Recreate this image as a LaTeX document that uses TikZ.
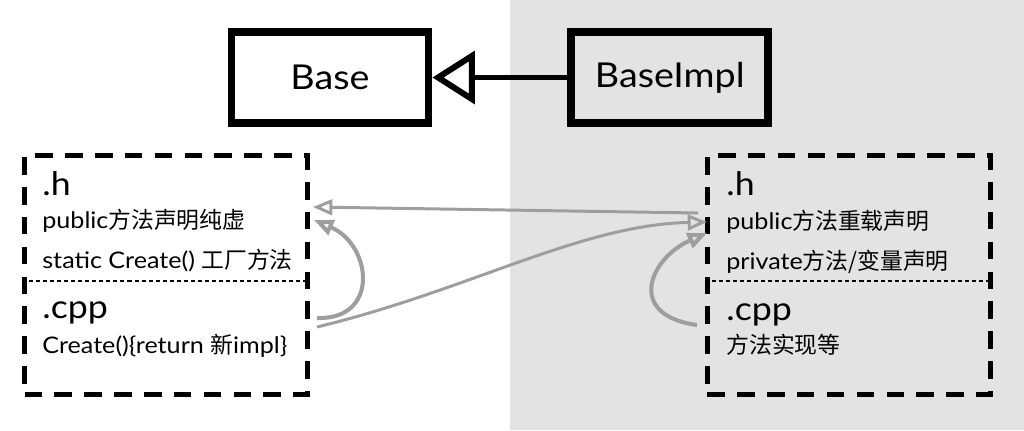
\documentclass[tikz,border=0pt]{standalone}
\usepackage{fontspec}
\setmainfont{Lato}[FakeStretch=1.1]
\newfontfamily\cjk{Noto Sans CJK SC}
\usetikzlibrary{arrows.meta, positioning}
\definecolor{implgray}{HTML}{E3E3E3}
\definecolor{linkgray}{HTML}{9E9E9E}

\begin{document}
\begin{tikzpicture}[x=0.02cm, y=-0.02cm, >=Stealth,
  classbox/.style={draw, line width=4.5pt, minimum width=3.94cm, minimum height=1.82cm, font=\fontsize{19.5}{23}\selectfont},
  filebox/.style={draw, line width=2.8pt, dash pattern=on 10pt off 7pt, minimum width=5.66cm, minimum height=4.78cm},
  divider/.style={draw, line width=0.6pt, dash pattern=on 2.3pt off 1.7pt},
  ext/.style={anchor=base west, inner sep=0pt, font=\fontsize{18.5}{22}\selectfont},
  textline/.style={anchor=base west, inner sep=0pt, font=\fontsize{13}{16}\selectfont},
  link/.style={draw=linkgray, line width=1.7pt, -{Triangle[open, length=11pt, width=9pt]}},
  selflink/.style={link, line width=2.3pt}]
\useasboundingbox (0,0) rectangle (1024,430);
\fill[implgray] (510,0) rectangle (1024,430);

% class boxes
\node[classbox] (base) at (330,77.5) {Base};
\node[classbox, right=2.7cm of base] (impl) {BaseImpl};
\draw[line width=3.4pt, -{Triangle[open, length=0.85cm, width=1.05cm]}] (impl) -- (base);

% file boxes
\node[filebox] (lbox) at (166,275) {};
\node[filebox, right=7.9cm of lbox] (rbox) {};
\draw[divider] ([yshift=-0.12cm]lbox.west) -- ([yshift=-0.12cm]lbox.east);
\draw[divider] ([yshift=-0.12cm]rbox.west) -- ([yshift=-0.12cm]rbox.east);

% left file
\node[ext] (lh) at (42,195) {.h};
\node[textline] (lpub) at (42,228) {public{\cjk 方法声明纯虚}};
\node[textline] (lstatic) at (42,268) {static Create() {\cjk 工厂方法}};
\node[ext] (lcpp) at (42,318) {.cpp};
\node[textline] (lcreate) at (42,353) {Create()\{return {\cjk 新}impl\}};

% right file
\node[ext] (rh) at (726,195) {.h};
\node[textline] (rpub) at (726,229) {public{\cjk 方法重载声明}};
\node[textline] (rpriv) at (726,269) {private{\cjk 方法/变量声明}};
\node[ext] (rcpp) at (726,320) {.cpp};
\node[textline] (rimpl) at (726,353) {{\cjk 方法实现等}};

% link ends
\coordinate (lhIn) at (313,207);
\coordinate (lhLoop) at (314,220);
\coordinate (lcppOut) at (317,318);
\coordinate (lcppLink) at (317,327);
\coordinate (rhOut) at (698,213);
\coordinate (rhIn) at (707,222);
\coordinate (rhLoop) at (707,233);
\coordinate (rcppOut) at (697,325);

\draw[link] (rhOut) -- (lhIn);
\draw[link] (lcppLink) .. controls (470,290) and (580,225) .. (rhIn);
\draw[selflink] (lcppOut) .. controls (380,320) and (372,245) .. (lhLoop);
\draw[selflink] (rcppOut) .. controls (625,315) and (650,258) .. (rhLoop);
\end{tikzpicture}
\end{document}
